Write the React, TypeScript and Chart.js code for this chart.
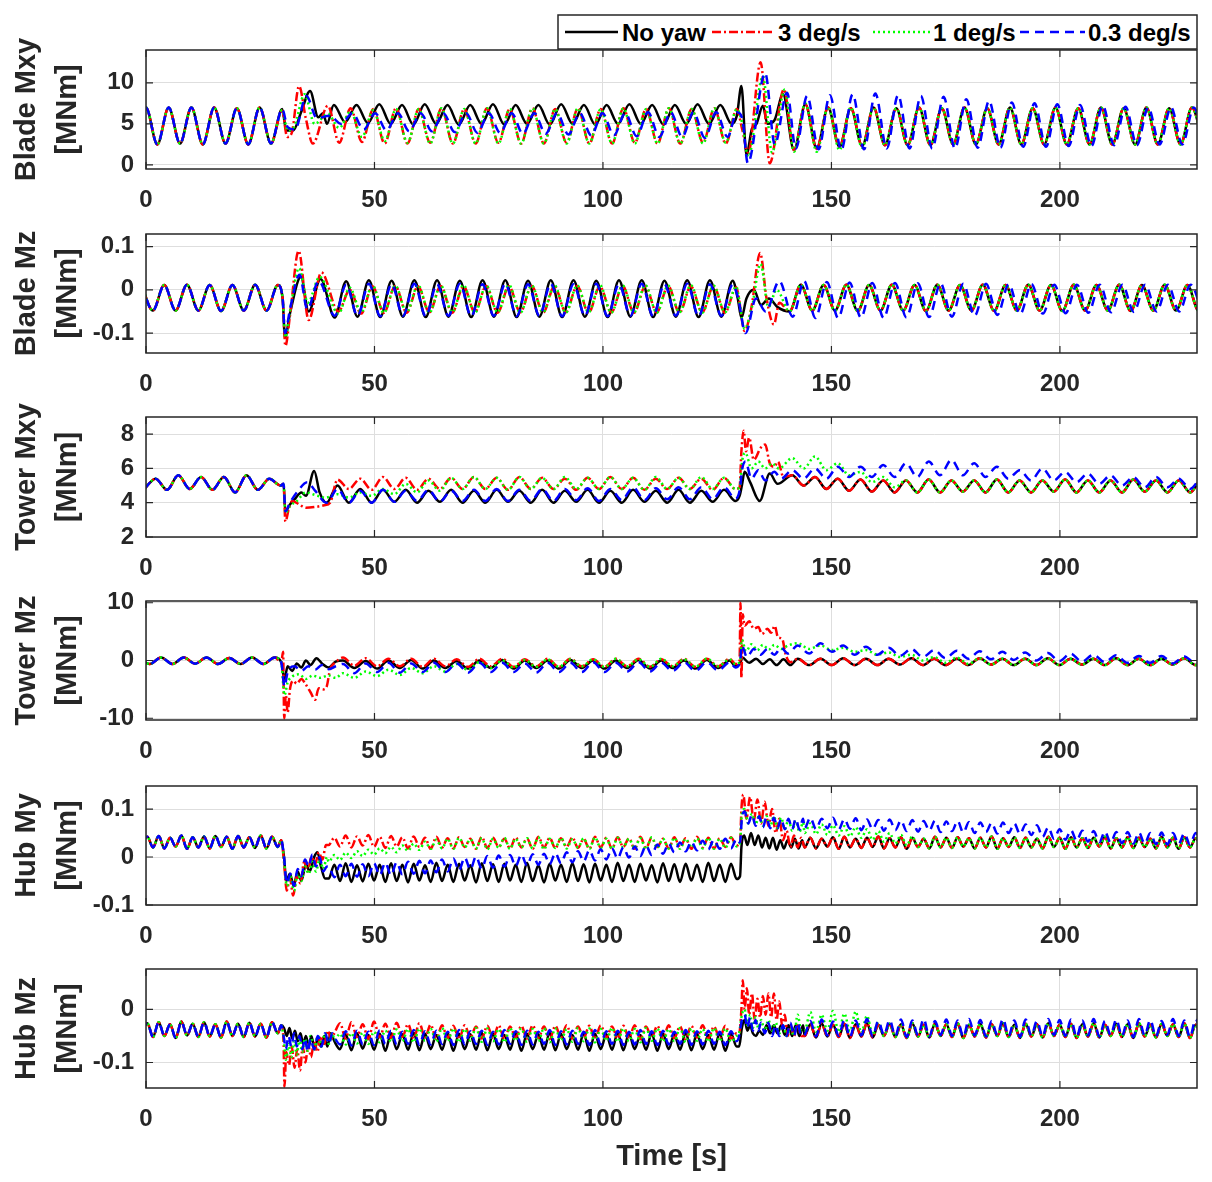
import React, { useEffect, useRef } from "react";
import { Chart, registerables } from "chart.js";

Chart.register(...registerables);

const FONT = "'Liberation Sans', Arial, Helvetica, sans-serif";
const INK = "#262626";
Chart.defaults.font.family = FONT;

const X_TICKS = [0, 50, 100, 150, 200];
const LABELS = ["No yaw", "3 deg/s", "1 deg/s", "0.3 deg/s"];

// ---------------- Blade Mxy (sampled at 1P half-period) ----------------
const MXY_T0 = -2.5;
const MXY_DT = 2.488;
const MXY_PRE = [2.6, 7.0, 2.5, 7.0, 2.6, 7.0, 2.5, 7.0, 2.6, 6.9, 2.5, 7.0, 2.6];
const MXY_BLACK_MID = [
  7.3, 5.2, 7.3, 5.1, 7.4, 5.0, 7.3, 4.9, 7.4, 5.0,
  7.3, 4.9, 7.3, 5.0, 7.4, 4.9, 7.3, 5.0, 7.3, 4.9,
  7.4, 5.0, 7.3, 4.9, 7.3, 5.0, 7.4, 5.0, 7.3, 4.9,
  7.3, 5.0, 7.4, 5.0, 7.3, 5.0];
const MXY_RED_MID = [
  7.2, 2.7, 6.9, 2.8, 6.8, 2.6, 6.9, 2.6, 6.8, 2.7,
  6.9, 2.6, 6.8, 2.6, 6.9, 2.7, 6.8, 2.6, 6.9, 2.6,
  6.8, 2.7, 6.9, 2.6, 6.8, 2.6, 6.9, 2.7, 6.8, 2.6,
  6.9, 2.6, 6.8, 2.7, 6.9, 2.6];
const MXY_GREEN_MID = [
  6.2, 4.5, 6.5, 3.4, 6.7, 2.9, 6.8, 2.7, 6.8, 2.6,
  6.9, 2.6, 6.8, 2.6, 6.9, 2.6, 6.8, 2.6, 6.9, 2.6,
  6.8, 2.6, 6.9, 2.6, 6.8, 2.6, 6.9, 2.6, 6.8, 2.6,
  6.9, 2.6, 6.8, 2.6, 6.9, 2.7];
const MXY_BLUE_MID = [
  6.0, 5.0, 6.3, 4.3, 6.3, 4.2, 6.3, 4.1, 6.3, 4.1,
  6.3, 4.0, 6.3, 3.9, 6.3, 3.9, 6.3, 3.8, 6.3, 3.8,
  6.3, 3.7, 6.3, 3.6, 6.3, 3.6, 6.3, 3.5, 6.4, 3.4,
  6.4, 3.4, 6.4, 3.3, 6.4, 3.4];
const MXY_COMMON_POST = [
  1.8, 7.4, 2.0, 7.0, 2.2, 6.9, 2.3, 7.0, 2.4, 6.9,
  2.4, 7.0, 2.4, 6.9, 2.5, 7.0, 2.5, 6.9, 2.5, 7.0,
  2.5, 6.9, 2.5, 7.0, 2.5, 6.9, 2.5, 7.0, 2.5, 6.9,
  2.5, 7.0, 2.5, 6.9, 2.5, 7.0, 2.5];
const MXY_GREEN_POST_HEAD = [1.6, 7.5, 1.6, 7.1, 1.8, 7.0, 2.1];
const MXY_BLUE_POST = [
  2.0, 8.4, 1.9, 8.5, 1.8, 8.6, 1.9, 8.7, 2.0, 8.5,
  2.0, 8.4, 2.0, 8.3, 2.0, 8.0, 2.1, 7.8, 2.1, 7.6,
  2.2, 7.5, 2.2, 7.4, 2.3, 7.3, 2.3, 7.2, 2.4, 7.1,
  2.4, 7.0, 2.5, 7.0, 2.5, 7.0, 2.5];
const MXY_BLACK_X = [[29.8, 6.8], [30.7, 4.2], [32.2, 4.2], [34.0, 6.5], [35.9, 9.0], [37.7, 5.8], [38.7, 6.3], [39.6, 5.0],
  [129.3, 6.0], [130.3, 9.6], [131.4, 1.2], [132.6, 4.4], [133.6, 5.0], [135.0, 7.2], [136.0, 5.0], [137.5, 5.4], [139.4, 8.6]];
const MXY_RED_X = [[29.8, 6.6], [30.9, 3.4], [31.9, 3.9], [33.5, 9.6], [35.0, 5.6], [36.5, 2.6],
  [129.3, 6.8], [130.4, 4.5], [131.8, 1.5], [134.5, 12.5], [136.5, 0.2], [139.6, 9.2]];
const MXY_GREEN_X = [[29.8, 6.7], [31.0, 4.2], [32.4, 4.6], [34.7, 8.6], [36.9, 5.0],
  [129.3, 6.8], [130.5, 5.0], [131.8, 1.0], [135.0, 10.8], [137.0, 1.5], [139.8, 9.2]];
const MXY_BLUE_X = [[29.8, 6.8], [31.0, 4.6], [32.6, 4.3], [35.1, 8.4], [37.4, 5.7],
  [129.3, 6.4], [130.5, 5.6], [131.7, 0.2], [135.5, 11.2], [137.6, 2.5], [140.3, 8.8]];

// ---------------- Blade Mz ----------------
const BMZ_T0 = -0.988;
const BMZ_DT = 2.488;
const BMZ_PRE = [0.011, -0.048, 0.011, -0.048, 0.012, -0.048, 0.011, -0.049, 0.011, -0.048, 0.012, -0.048, 0.011];
const BMZ_BLACK_MID = [
  -0.064, 0.020, -0.062, 0.022, -0.063, 0.021, -0.062, 0.022, -0.063, 0.022,
  -0.062, 0.021, -0.063, 0.022, -0.062, 0.022, -0.063, 0.021, -0.062, 0.022,
  -0.063, 0.022, -0.062, 0.021, -0.063, 0.022, -0.062, 0.022, -0.063, 0.021,
  -0.062, 0.022, -0.063, 0.022, -0.062, 0.021];
const BMZ_RED_MID = [
  -0.050, 0.000, -0.055, 0.008, -0.053, 0.009, -0.053, 0.008, -0.052, 0.009,
  -0.053, 0.008, -0.052, 0.009, -0.053, 0.008, -0.052, 0.009, -0.053, 0.008,
  -0.052, 0.009, -0.053, 0.008, -0.052, 0.009, -0.053, 0.008, -0.052, 0.009,
  -0.053, 0.008, -0.052, 0.009, -0.053, 0.006];
const BMZ_GREEN_MID = [
  -0.055, 0.005, -0.052, 0.010, -0.053, 0.010, -0.052, 0.011, -0.053, 0.010,
  -0.052, 0.011, -0.053, 0.010, -0.052, 0.011, -0.053, 0.010, -0.052, 0.011,
  -0.053, 0.010, -0.052, 0.011, -0.053, 0.010, -0.052, 0.011, -0.053, 0.010,
  -0.052, 0.011, -0.053, 0.010, -0.052, 0.008];
const BMZ_BLUE_MID = [
  -0.060, 0.012, -0.060, 0.014, -0.061, 0.013, -0.060, 0.014, -0.061, 0.013,
  -0.060, 0.014, -0.061, 0.013, -0.060, 0.014, -0.061, 0.013, -0.060, 0.014,
  -0.061, 0.013, -0.060, 0.014, -0.061, 0.013, -0.060, 0.014, -0.061, 0.013,
  -0.060, 0.014, -0.061, 0.013, -0.060, 0.012];
const BMZ_COMMON_POST = [
  -0.050, 0.012, -0.048, 0.011, -0.048, 0.012, -0.049, 0.011, -0.048, 0.012,
  -0.048, 0.011, -0.049, 0.012, -0.048, 0.011, -0.048, 0.012, -0.049, 0.011,
  -0.048, 0.012, -0.048, 0.011, -0.049, 0.012, -0.048, 0.011, -0.048, 0.012,
  -0.049, 0.011, -0.048, 0.012, -0.048, 0.011, -0.049, 0.012];
const BMZ_BLUE_POST = [
  -0.062, 0.020, -0.065, 0.018, -0.065, 0.017, -0.064, 0.016, -0.065, 0.016,
  -0.064, 0.015, -0.063, 0.015, -0.062, 0.014, -0.060, 0.014, -0.058, 0.013,
  -0.056, 0.013, -0.055, 0.012, -0.054, 0.012, -0.053, 0.012, -0.052, 0.012,
  -0.051, 0.012, -0.050, 0.012, -0.050, 0.012, -0.050];
const BMZ_BLACK_X = [[29.9, -0.02], [30.4, -0.11], [31.6, -0.05], [33.9, 0.03], [35.6, -0.05], [38.2, 0.025],
  [129.5, -0.02], [130.3, -0.065], [131.4, -0.02], [133.0, 0.0], [134.6, -0.035], [136.3, -0.02], [138.2, -0.04]];
const BMZ_RED_X = [[29.9, -0.02], [30.5, -0.13], [31.5, -0.06], [33.4, 0.09], [35.6, -0.07], [38.4, 0.04],
  [129.6, -0.01], [131.0, -0.095], [132.5, -0.04], [134.4, 0.085], [135.8, -0.02], [137.4, -0.08], [138.6, -0.03]];
const BMZ_GREEN_X = [[29.9, -0.02], [30.5, -0.11], [31.5, -0.05], [33.5, 0.05], [35.4, -0.03], [38.0, 0.03],
  [129.6, -0.01], [131.0, -0.09], [132.6, -0.04], [134.5, 0.06], [136.2, -0.04], [138.0, 0.0]];
const BMZ_BLUE_X = [[29.9, -0.02], [30.4, -0.10], [31.6, -0.04], [33.6, 0.035], [35.3, -0.045], [37.8, 0.02],
  [129.6, -0.02], [131.2, -0.10], [133.5, -0.02], [135.6, -0.05], [138.6, 0.02]];

// ---------------- Tower Mxy ----------------
const TMXY_T0 = -0.388;
const TMXY_DT = 2.488;
const TMXY_PRE = [4.8, 5.4, 4.75, 5.6, 4.8, 5.5, 4.75, 5.5, 4.6, 5.6, 4.75, 5.4, 5.0];
const TMXY_BLACK_MID = [
  5.0, 4.0, 4.8, 4.0, 4.75, 4.05, 4.75, 4.0, 4.7, 4.05,
  4.75, 4.0, 4.7, 4.0, 4.75, 4.05, 4.7, 4.0, 4.75, 4.0,
  4.7, 4.05, 4.75, 4.0, 4.7, 4.0, 4.75, 4.05, 4.7, 4.0,
  4.75, 4.0, 4.7, 4.05, 4.75, 4.1];
const TMXY_RED_MID = [
  5.35, 4.8, 5.4, 4.75, 5.5, 4.8, 5.45, 4.75, 5.4, 4.8,
  5.45, 4.8, 5.5, 4.8, 5.45, 4.75, 5.5, 4.8, 5.45, 4.8,
  5.4, 4.75, 5.45, 4.8, 5.5, 4.8, 5.45, 4.75, 5.4, 4.8,
  5.45, 4.8, 5.4, 4.75, 5.45, 4.8];
const TMXY_GREEN_MID = [
  4.5, 4.3, 4.6, 4.4, 4.8, 4.5, 5.1, 4.6, 5.3, 4.7,
  5.45, 4.8, 5.5, 4.8, 5.45, 4.75, 5.5, 4.8, 5.45, 4.8,
  5.5, 4.8, 5.45, 4.8, 5.5, 4.8, 5.45, 4.75, 5.5, 4.8,
  5.45, 4.8, 5.5, 4.8, 5.45, 4.8];
const TMXY_BLUE_MID = [
  4.8, 4.0, 4.7, 4.0, 4.75, 4.05, 4.7, 4.1, 4.75, 4.05,
  4.7, 4.1, 4.75, 4.1, 4.8, 4.1, 4.75, 4.1, 4.8, 4.1,
  4.8, 4.15, 4.85, 4.1, 4.8, 4.15, 4.9, 4.15, 4.85, 4.2,
  4.9, 4.2, 4.9, 4.2, 4.9, 4.25];
const TMXY_COMMON_POST = [
  5.6, 5.0, 5.5, 4.8, 5.4, 4.7, 5.35, 4.65, 5.3, 4.6,
  5.3, 4.6, 5.35, 4.6, 5.3, 4.65, 5.3, 4.6, 5.35, 4.6,
  5.3, 4.6, 5.3, 4.65, 5.35, 4.6, 5.3, 4.6, 5.3, 4.6,
  5.35, 4.65, 5.3, 4.6, 5.3, 4.6, 5.35, 4.6];
const TMXY_GREEN_POST_HEAD = [6.6, 6.0, 6.7, 5.9, 6.3, 5.6, 5.8, 5.2, 5.5, 4.9];
const TMXY_BLUE_POST = [
  5.9, 5.4, 6.0, 5.4, 6.1, 5.5, 6.1, 5.5, 6.2, 5.5,
  6.3, 5.5, 6.4, 5.6, 6.5, 5.6, 6.3, 5.5, 6.1, 5.4,
  5.9, 5.3, 6.0, 5.3, 5.8, 5.2, 5.7, 5.1, 5.6, 5.0,
  5.5, 4.9, 5.5, 4.9, 5.4, 4.8, 5.4, 4.8];
const TMXY_BLACK_X = [[30.1, 5.1], [30.5, 3.5], [31.5, 3.9], [32.5, 4.2], [34.0, 4.6], [35.0, 4.4], [36.8, 5.85], [38.0, 4.6], [39.5, 4.0],
  [129.9, 4.4], [130.4, 5.0], [131.0, 5.8], [132.2, 5.2], [134.3, 4.1], [136.5, 5.7], [138.2, 5.1]];
const TMXY_RED_X = [[30.1, 5.1], [30.5, 2.9], [31.3, 3.7], [32.0, 4.1], [33.5, 3.9], [35.0, 3.7], [37.0, 3.75], [39.0, 3.85], [40.3, 4.0],
  [129.9, 4.9], [130.3, 7.0], [130.8, 8.2], [131.3, 7.0], [132.0, 7.8], [133.0, 6.5], [134.5, 7.2], [135.5, 7.4], [136.5, 6.3], [137.5, 6.1], [138.3, 6.4], [139.5, 5.5]];
const TMXY_GREEN_X = [[30.1, 5.1], [30.5, 3.4], [31.5, 3.8], [33.0, 4.1], [35.0, 4.6], [37.0, 4.45], [39.3, 4.3],
  [129.9, 4.9], [130.5, 6.5], [131.2, 6.9], [132.5, 6.0], [134.0, 6.4], [135.5, 6.0], [137.0, 6.3], [138.5, 6.0]];
const TMXY_BLUE_X = [[30.1, 5.1], [30.5, 3.5], [31.5, 4.0], [33.0, 4.6], [35.3, 5.2], [37.0, 4.7], [39.5, 4.0],
  [129.9, 4.7], [130.5, 6.0], [131.2, 6.4], [132.5, 5.4], [134.0, 5.9], [135.5, 5.3], [137.5, 5.8], [139.0, 5.4]];

// ---------------- Tower Mz ----------------
const TMZ_T0 = -1.676;
const TMZ_DT = 2.488;
const TMZ_PRE = [0.45, -0.6, 0.5, -0.6, 0.5, -0.55, 0.5, -0.6, 0.45, -0.6, 0.5, -0.6, 0.5];
const TMZ_BLACK_MID = [
  0.0, -1.3, -0.1, -1.4, 0.0, -1.3, 0.1, -1.4, 0.0, -1.3,
  -0.1, -1.4, 0.0, -1.3, 0.1, -1.4, 0.0, -1.3, 0.0, -1.4,
  0.1, -1.3, 0.0, -1.4, 0.0, -1.3, 0.1, -1.4, 0.0, -1.3,
  0.0, -1.4, 0.1, -1.3, 0.0];
const TMZ_RED_MID = [
  0.5, -0.9, 0.4, -1.0, 0.3, -1.0, 0.3, -1.1, 0.3, -1.0,
  0.2, -1.1, 0.3, -1.0, 0.3, -1.1, 0.2, -1.0, 0.3, -1.1,
  0.3, -1.0, 0.2, -1.1, 0.3, -1.0, 0.3, -1.1, 0.2, -1.0,
  0.3, -1.1, 0.3, -1.0, 0.3];
const TMZ_GREEN_MID = [
  -2.2, -3.0, -1.9, -2.7, -1.6, -2.5, -1.3, -2.2, -1.0, -1.9,
  -0.6, -1.6, -0.3, -1.3, 0.0, -1.2, 0.1, -1.1, 0.2, -1.1,
  0.2, -1.0, 0.2, -1.1, 0.3, -1.0, 0.2, -1.1, 0.3, -1.0,
  0.2, -1.1, 0.3, -1.0, 0.2];
const TMZ_BLUE_MID = [
  -0.6, -2.2, -0.5, -2.0, -0.4, -2.1, -0.5, -2.0, -0.4, -2.0,
  -0.5, -2.1, -0.4, -2.0, -0.4, -2.0, -0.5, -2.1, -0.4, -2.0,
  -0.4, -2.0, -0.3, -2.0, -0.4, -1.9, -0.3, -1.9, -0.4, -1.8,
  -0.3, -1.8, -0.3, -1.7, -0.3];
const TMZ_COMMON_POST = [
  0.3, -0.8, 0.3, -0.8, 0.4, -0.8, 0.3, -0.8, 0.3, -0.7,
  0.4, -0.8, 0.3, -0.8, 0.3, -0.8, 0.4, -0.7, 0.3, -0.8,
  0.3, -0.8, 0.4, -0.8, 0.3, -0.7, 0.3, -0.8, 0.4, -0.8,
  0.3, -0.8, 0.3, -0.7, 0.4, -0.8, 0.3];
const TMZ_GREEN_POST_HEAD = [3.0, 2.0, 2.6, 1.8, 2.2, 1.5, 1.8, 1.0, 1.4, 0.6, 1.0, 0.0, 0.6, -0.4, 0.5, -0.6, 0.4, -0.7];
const TMZ_BLUE_POST = [
  2.6, 1.2, 3.0, 1.5, 2.6, 1.0, 2.4, 1.0, 2.2, 0.8,
  2.0, 0.6, 1.8, 0.4, 1.7, 0.3, 1.6, 0.2, 1.5, 0.1,
  1.4, 0.0, 1.3, -0.1, 1.2, -0.2, 1.0, -0.3, 0.9, -0.4,
  0.8, -0.4, 0.8, -0.5, 0.7, -0.5, 0.6];
const TMZ_BLACK_X = [[29.6, -0.3], [30.3, -3.2], [31.0, -1.0], [32.0, -1.8], [33.0, -0.5], [34.0, -1.2], [35.0, 0.0], [36.0, -0.8], [37.3, 0.4], [38.5, -0.5], [40.0, -1.2], [41.5, -0.2],
  [129.0, -1.0], [130.0, -0.5], [130.5, 0.5], [132.0, -0.4], [133.5, 0.3], [135.0, -0.6], [136.5, 0.2], [138.0, -0.8], [139.5, 0.2], [141.0, -0.8]];
const TMZ_RED_X = [[29.6, -0.3], [30.0, 1.5], [30.25, -10.0], [30.6, -6.0], [31.0, -9.0], [31.5, -5.0], [32.2, -3.5], [33.0, -4.0], [34.0, -3.2], [35.0, -4.2], [36.0, -5.5], [37.0, -6.8], [37.8, -4.8], [38.8, -5.0], [39.5, -4.6], [40.3, -1.5], [41.5, -0.3],
  [129.0, -0.6], [129.9, 0.0], [130.1, 10.0], [130.3, -3.0], [130.6, 8.0], [131.0, 6.0], [132.0, 6.8], [133.0, 5.5], [134.0, 5.8], [134.8, 4.6], [136.0, 5.5], [136.8, 4.8], [137.6, 6.0], [138.3, 4.0], [139.2, 3.8], [140.0, 1.0], [141.0, -0.3]];
const TMZ_GREEN_X = [[29.6, -0.3], [30.3, -6.0], [31.0, -3.8], [32.0, -2.8], [33.5, -2.4], [35.0, -3.2], [36.5, -2.6], [38.0, -3.0], [40.0, -2.6], [41.5, -3.0],
  [129.0, -0.6], [130.0, -0.2], [130.4, 3.6], [131.3, 1.6], [132.5, 2.8], [133.8, 1.8], [135.0, 2.7], [136.3, 1.9], [137.5, 2.7], [139.0, 2.0], [140.5, 2.6]];
const TMZ_BLUE_X = [[29.6, -0.3], [30.3, -4.5], [31.0, -2.0], [32.5, -1.0], [34.0, -1.8], [35.5, -1.0], [37.0, -1.6], [38.5, -0.8], [40.0, -1.5], [41.5, -1.0],
  [129.0, -1.2], [130.0, -0.3], [130.4, 2.6], [131.5, 0.6], [133.0, 2.0], [134.5, 1.0], [136.0, 2.0], [137.5, 1.0], [139.0, 2.2], [140.5, 1.2]];

// ---------------- Hub My (sampled every 1.24 s) ----------------
const HUB_T0 = -0.94;
const HUB_DT = 1.24;
const HMY_PRE = [
  0.030, 0.042, 0.020, 0.044, 0.018, 0.040, 0.022, 0.045, 0.017, 0.041,
  0.020, 0.043, 0.018, 0.044, 0.021, 0.042, 0.017, 0.044, 0.020, 0.041,
  0.019, 0.045, 0.018, 0.042, 0.021];
const HMY_BLACK_MID = [
  -0.045, -0.016, -0.050, -0.013, -0.052, -0.017, -0.051, -0.014, -0.049, -0.016,
  -0.052, -0.013, -0.050, -0.016, -0.053, -0.014, -0.049, -0.017, -0.052, -0.012,
  -0.050, -0.016, -0.052, -0.014, -0.049, -0.017, -0.053, -0.013, -0.050, -0.015,
  -0.052, -0.014, -0.049, -0.016, -0.052, -0.012, -0.050, -0.017, -0.053, -0.014,
  -0.049, -0.016, -0.052, -0.013, -0.050, -0.015, -0.053, -0.014, -0.049, -0.016,
  -0.052, -0.012, -0.050, -0.016, -0.052, -0.014, -0.049, -0.017, -0.053, -0.013,
  -0.050, -0.015, -0.052, -0.014, -0.049, -0.016, -0.052, -0.012, -0.050, -0.016,
  -0.052, -0.014, -0.046];
const HMY_RED_MID = [
  0.025, 0.040, 0.022, 0.045, 0.020, 0.043, 0.024, 0.046, 0.021, 0.042,
  0.019, 0.044, 0.022, 0.041, 0.018, 0.043, 0.021, 0.040, 0.017, 0.042,
  0.020, 0.039, 0.018, 0.041, 0.021, 0.038, 0.017, 0.042, 0.019, 0.040,
  0.021, 0.038, 0.018, 0.041, 0.020, 0.039, 0.017, 0.042, 0.020, 0.040,
  0.018, 0.039, 0.021, 0.041, 0.019, 0.038, 0.017, 0.042, 0.020, 0.040,
  0.018, 0.041, 0.021, 0.039, 0.017, 0.042, 0.019, 0.040, 0.021, 0.038,
  0.018, 0.041, 0.020, 0.039, 0.017, 0.042, 0.020, 0.040, 0.018, 0.039,
  0.021, 0.041, 0.024];
const HMY_GREEN_MID = [
  -0.010, 0.004, -0.006, 0.009, -0.002, 0.012, 0.002, 0.015, 0.005, 0.018,
  0.008, 0.021, 0.010, 0.024, 0.013, 0.028, 0.015, 0.032, 0.017, 0.036,
  0.018, 0.038, 0.017, 0.040, 0.020, 0.037, 0.018, 0.039, 0.016, 0.038,
  0.019, 0.040, 0.017, 0.038, 0.020, 0.039, 0.018, 0.041, 0.016, 0.038,
  0.019, 0.040, 0.018, 0.037, 0.020, 0.039, 0.017, 0.041, 0.019, 0.038,
  0.017, 0.040, 0.020, 0.038, 0.018, 0.039, 0.016, 0.041, 0.019, 0.038,
  0.018, 0.040, 0.017, 0.038, 0.020, 0.039, 0.018, 0.040, 0.017, 0.038,
  0.019, 0.040, 0.022];
const HMY_BLUE_MID = [
  -0.020, -0.042, -0.016, -0.040, -0.014, -0.041, -0.015, -0.040, -0.013, -0.038,
  -0.012, -0.038, -0.011, -0.036, -0.010, -0.035, -0.008, -0.034, -0.007, -0.032,
  -0.005, -0.030, -0.003, -0.028, -0.001, -0.026, 0.001, -0.024, 0.002, -0.022,
  0.003, -0.020, 0.004, -0.019, 0.005, -0.018, 0.006, -0.016, 0.007, -0.015,
  0.008, -0.013, 0.010, -0.011, 0.012, -0.009, 0.014, -0.007, 0.016, -0.005,
  0.018, -0.003, 0.020, -0.001, 0.022, 0.002, 0.024, 0.004, 0.026, 0.007,
  0.028, 0.010, 0.030, 0.012, 0.032, 0.014, 0.034, 0.016, 0.036, 0.017,
  0.038, 0.018, 0.038];
const HMY_COMMON_POST = [
  0.020, 0.040, 0.018, 0.038, 0.022, 0.041, 0.017, 0.042, 0.020, 0.038,
  0.019, 0.040, 0.021, 0.043, 0.018, 0.039, 0.020, 0.041, 0.017, 0.040,
  0.021, 0.038, 0.018, 0.042, 0.020, 0.040, 0.019, 0.041, 0.022, 0.039,
  0.018, 0.040, 0.020, 0.043, 0.017, 0.039, 0.021, 0.041, 0.019, 0.040,
  0.020, 0.038, 0.018, 0.042, 0.021, 0.040, 0.017, 0.041, 0.020, 0.039,
  0.019, 0.040, 0.022, 0.042, 0.018, 0.039, 0.020, 0.041, 0.019, 0.040,
  0.021, 0.038, 0.018, 0.042, 0.020, 0.040, 0.017, 0.041, 0.020, 0.039,
  0.020];
const HMY_GREEN_POST_HEAD = [
  0.050, 0.070, 0.048, 0.068, 0.046, 0.066, 0.045, 0.064, 0.043, 0.062,
  0.040, 0.058, 0.036, 0.054, 0.032, 0.050, 0.028, 0.046, 0.024, 0.043];
const HMY_BLUE_POST = [
  0.060, 0.082, 0.058, 0.080, 0.060, 0.082, 0.057, 0.079, 0.059, 0.081,
  0.056, 0.078, 0.058, 0.077, 0.055, 0.078, 0.056, 0.076, 0.054, 0.077,
  0.053, 0.075, 0.055, 0.076, 0.052, 0.074, 0.054, 0.075, 0.051, 0.073,
  0.050, 0.072, 0.052, 0.071, 0.049, 0.072, 0.050, 0.070, 0.048, 0.068,
  0.046, 0.066, 0.042, 0.062, 0.038, 0.058, 0.036, 0.056, 0.034, 0.055,
  0.032, 0.054, 0.031, 0.053, 0.030, 0.052, 0.029, 0.052, 0.028, 0.051,
  0.028, 0.050, 0.027, 0.051, 0.026, 0.050, 0.027, 0.049, 0.026, 0.050,
  0.028];
const HMY_BLACK_X = [[29.6, 0.035], [30.2, 0.0], [30.7, -0.05], [31.5, -0.035], [32.3, -0.06], [33.2, -0.03], [34.0, -0.05], [35.0, -0.015], [35.8, -0.03], [36.8, 0.0], [37.5, 0.01], [38.3, -0.02], [39.2, -0.045],
  [130.0, -0.04], [130.3, 0.02], [130.9, 0.045], [131.6, 0.025], [132.4, 0.05], [133.2, 0.025], [134.0, 0.045], [134.8, 0.02], [135.6, 0.04], [136.4, 0.018], [137.2, 0.04], [138.0, 0.015], [138.8, 0.035], [139.6, 0.018], [140.4, 0.035], [141.2, 0.02], [142.0, 0.038], [142.8, 0.018], [143.6, 0.035]];
const HMY_RED_X = [[29.6, 0.035], [30.2, -0.01], [30.8, -0.07], [31.5, -0.045], [32.2, -0.08], [33.0, -0.04], [33.8, -0.055], [34.6, -0.01], [35.4, -0.03], [36.2, 0.0], [37.0, -0.015], [37.8, 0.01], [38.6, -0.005], [39.4, 0.025],
  [130.0, 0.03], [130.3, 0.1], [130.7, 0.13], [131.4, 0.08], [132.2, 0.125], [133.0, 0.075], [133.8, 0.12], [134.6, 0.07], [135.4, 0.115], [136.2, 0.065], [137.0, 0.1], [137.8, 0.05], [138.6, 0.08], [139.4, 0.035], [140.2, 0.055], [141.0, 0.02], [141.8, 0.045], [142.6, 0.02], [143.4, 0.04]];
const HMY_GREEN_X = [[29.6, 0.035], [30.2, -0.005], [30.8, -0.06], [31.6, -0.04], [32.4, -0.07], [33.2, -0.035], [34.0, -0.05], [34.8, -0.02], [35.6, -0.035], [36.4, -0.01], [37.2, -0.03], [38.0, -0.005], [38.8, -0.025], [39.6, 0.0],
  [130.0, 0.03], [130.4, 0.09], [131.0, 0.1], [131.8, 0.07], [132.6, 0.09], [133.4, 0.068], [134.2, 0.088], [135.0, 0.065], [135.8, 0.085], [136.6, 0.063], [137.4, 0.085], [138.2, 0.06], [139.0, 0.082], [139.8, 0.058], [140.6, 0.078], [141.4, 0.055], [142.2, 0.075], [143.0, 0.052], [143.8, 0.072]];
const HMY_BLUE_X = [[29.6, 0.035], [30.2, 0.0], [30.8, -0.055], [31.6, -0.035], [32.4, -0.06], [33.2, -0.025], [34.0, -0.04], [34.8, -0.005], [35.6, -0.02], [36.4, 0.005], [37.2, -0.02], [38.0, 0.0], [38.8, -0.03], [39.6, -0.02],
  [130.0, 0.03], [130.4, 0.08], [131.0, 0.095], [131.8, 0.07], [132.6, 0.088], [133.4, 0.065], [134.2, 0.085], [135.0, 0.062], [135.8, 0.083], [136.6, 0.06], [137.4, 0.082], [138.2, 0.06], [139.0, 0.08], [139.8, 0.058], [140.6, 0.08], [141.4, 0.058], [142.2, 0.08], [143.0, 0.057], [143.8, 0.08]];

// ---------------- Hub Mz ----------------
const HMZ_PRE = [
  -0.040, -0.026, -0.052, -0.024, -0.050, -0.028, -0.054, -0.023, -0.049, -0.027,
  -0.052, -0.024, -0.051, -0.028, -0.053, -0.023, -0.050, -0.027, -0.052, -0.025,
  -0.051, -0.027, -0.053, -0.024, -0.045];
const HMZ_BLACK_MID = [
  -0.060, -0.075, -0.047, -0.077, -0.045, -0.074, -0.048, -0.076, -0.046, -0.078,
  -0.045, -0.075, -0.047, -0.076, -0.044, -0.077, -0.046, -0.075, -0.048, -0.076,
  -0.045, -0.078, -0.046, -0.075, -0.047, -0.076, -0.044, -0.077, -0.046, -0.075,
  -0.048, -0.076, -0.045, -0.078, -0.046, -0.075, -0.047, -0.076, -0.044, -0.077,
  -0.046, -0.075, -0.048, -0.076, -0.045, -0.078, -0.046, -0.075, -0.047, -0.076,
  -0.044, -0.077, -0.046, -0.075, -0.048, -0.076, -0.045, -0.078, -0.046, -0.075,
  -0.047, -0.076, -0.044, -0.077, -0.046, -0.075, -0.048, -0.076, -0.045, -0.078,
  -0.046, -0.070];
const HMZ_RED_MID = [
  -0.045, -0.026, -0.055, -0.024, -0.052, -0.028, -0.056, -0.023, -0.053, -0.027,
  -0.054, -0.025, -0.052, -0.028, -0.055, -0.026, -0.053, -0.029, -0.056, -0.030,
  -0.054, -0.031, -0.056, -0.030, -0.053, -0.032, -0.055, -0.031, -0.054, -0.030,
  -0.056, -0.032, -0.053, -0.031, -0.055, -0.030, -0.054, -0.032, -0.056, -0.031,
  -0.053, -0.030, -0.055, -0.032, -0.054, -0.031, -0.056, -0.030, -0.053, -0.032,
  -0.055, -0.031, -0.054, -0.030, -0.056, -0.032, -0.053, -0.031, -0.055, -0.030,
  -0.054, -0.032, -0.056, -0.031, -0.053, -0.030, -0.055, -0.032, -0.054, -0.031,
  -0.055, -0.045];
const HMZ_GREEN_MID = [
  -0.058, -0.046, -0.066, -0.045, -0.064, -0.044, -0.065, -0.042, -0.062, -0.040,
  -0.061, -0.038, -0.060, -0.037, -0.062, -0.036, -0.059, -0.037, -0.061, -0.035,
  -0.060, -0.036, -0.062, -0.037, -0.059, -0.035, -0.061, -0.036, -0.060, -0.037,
  -0.062, -0.035, -0.059, -0.036, -0.061, -0.037, -0.060, -0.035, -0.062, -0.036,
  -0.059, -0.037, -0.061, -0.035, -0.060, -0.036, -0.062, -0.037, -0.059, -0.035,
  -0.061, -0.036, -0.060, -0.037, -0.062, -0.035, -0.059, -0.036, -0.061, -0.037,
  -0.060, -0.035, -0.062, -0.036, -0.059, -0.037, -0.061, -0.035, -0.060, -0.036,
  -0.061, -0.050];
const HMZ_BLUE_MID = [
  -0.052, -0.066, -0.041, -0.068, -0.040, -0.066, -0.042, -0.067, -0.039, -0.065,
  -0.040, -0.066, -0.042, -0.065, -0.039, -0.067, -0.041, -0.066, -0.040, -0.065,
  -0.042, -0.067, -0.039, -0.066, -0.041, -0.065, -0.040, -0.067, -0.042, -0.066,
  -0.039, -0.065, -0.041, -0.067, -0.040, -0.066, -0.042, -0.065, -0.039, -0.067,
  -0.041, -0.066, -0.040, -0.065, -0.042, -0.067, -0.039, -0.066, -0.041, -0.065,
  -0.040, -0.067, -0.042, -0.066, -0.039, -0.065, -0.041, -0.067, -0.040, -0.066,
  -0.042, -0.065, -0.039, -0.067, -0.041, -0.066, -0.040, -0.065, -0.042, -0.067,
  -0.041, -0.060];
const HMZ_COMMON_POST = [
  -0.050, -0.028, -0.053, -0.026, -0.051, -0.029, -0.052, -0.027, -0.054, -0.028,
  -0.051, -0.026, -0.053, -0.029, -0.050, -0.027, -0.052, -0.028, -0.054, -0.026,
  -0.051, -0.029, -0.053, -0.027, -0.050, -0.028, -0.052, -0.026, -0.054, -0.029,
  -0.051, -0.027, -0.053, -0.028, -0.050, -0.026, -0.052, -0.029, -0.054, -0.027,
  -0.051, -0.028, -0.053, -0.026, -0.050, -0.029, -0.052, -0.027, -0.054, -0.028,
  -0.051, -0.026, -0.053, -0.029, -0.050, -0.027, -0.052, -0.028, -0.054, -0.026,
  -0.051, -0.029, -0.053, -0.027, -0.050, -0.028, -0.052, -0.026, -0.054, -0.029,
  -0.051];
const HMZ_GREEN_POST_HEAD = [
  -0.040, -0.005, -0.042, -0.010, -0.040, -0.003, -0.043, -0.008, -0.041, -0.004,
  -0.044, -0.012, -0.048, -0.025, -0.050, -0.027, -0.052, -0.028, -0.054, -0.026];
const HMZ_BLUE_POST = [
  -0.048, -0.022, -0.051, -0.019, -0.049, -0.023, -0.050, -0.020, -0.052, -0.021,
  -0.049, -0.018, -0.051, -0.022, -0.048, -0.020, -0.050, -0.019, -0.052, -0.021,
  -0.049, -0.018, -0.051, -0.022, -0.048, -0.019, -0.050, -0.021, -0.052, -0.018,
  -0.049, -0.020, -0.051, -0.022, -0.048, -0.018, -0.050, -0.021, -0.052, -0.019,
  -0.049, -0.022, -0.051, -0.018, -0.048, -0.020, -0.050, -0.019, -0.052, -0.021,
  -0.049, -0.018, -0.051, -0.022, -0.048, -0.019, -0.050, -0.021, -0.052, -0.018,
  -0.049, -0.020, -0.051, -0.022, -0.048, -0.018, -0.050, -0.021, -0.052, -0.019,
  -0.049];
const HMZ_BLACK_X = [[29.6, -0.03], [30.2, -0.035], [30.8, -0.05], [31.4, -0.035], [32.0, -0.055], [32.6, -0.04], [33.2, -0.06], [33.8, -0.045], [34.4, -0.065], [35.0, -0.05], [35.6, -0.07], [36.2, -0.05], [36.9, -0.075], [37.6, -0.055], [38.3, -0.07], [39.0, -0.05], [39.7, -0.07], [40.4, -0.045],
  [129.8, -0.07], [130.4, -0.035], [131.0, -0.02], [131.6, -0.04], [132.2, -0.03], [132.8, -0.045], [133.5, -0.05], [134.2, -0.04], [135.0, -0.048], [135.8, -0.03], [136.6, -0.045], [137.4, -0.03], [138.2, -0.045], [139.0, -0.03], [139.8, -0.048], [140.6, -0.03], [141.4, -0.05], [142.2, -0.03], [143.0, -0.05], [143.8, -0.03]];
const HMZ_RED_X = [[29.6, -0.03], [30.1, -0.06], [30.3, -0.145], [30.7, -0.08], [31.3, -0.105], [31.9, -0.07], [32.5, -0.11], [33.1, -0.075], [33.7, -0.115], [34.3, -0.07], [34.9, -0.1], [35.5, -0.065], [36.1, -0.09], [36.8, -0.06], [37.5, -0.08], [38.2, -0.05], [39.0, -0.065], [39.8, -0.04], [40.5, -0.055],
  [129.8, -0.045], [130.3, 0.0], [130.6, 0.055], [131.0, 0.0], [131.5, 0.04], [132.0, -0.01], [132.6, 0.03], [133.2, -0.02], [133.8, 0.02], [134.4, -0.015], [135.0, 0.025], [135.6, -0.01], [136.2, 0.03], [136.8, -0.015], [137.4, 0.03], [138.0, -0.02], [138.6, 0.015], [139.2, -0.03], [139.8, -0.01], [140.4, -0.05], [141.0, -0.03], [141.8, -0.05], [142.6, -0.03], [143.4, -0.05]];
const HMZ_GREEN_X = [[29.6, -0.03], [30.2, -0.06], [30.6, -0.095], [31.2, -0.065], [31.8, -0.09], [32.4, -0.06], [33.0, -0.085], [33.6, -0.055], [34.2, -0.08], [34.8, -0.055], [35.4, -0.078], [36.0, -0.05], [36.8, -0.075], [37.6, -0.05], [38.4, -0.07], [39.2, -0.045], [40.0, -0.065], [40.8, -0.045],
  [129.8, -0.045], [130.4, -0.01], [131.0, 0.0], [131.6, -0.03], [132.2, -0.01], [132.8, -0.035], [133.4, -0.015], [134.0, -0.035], [134.6, -0.02], [135.4, -0.04], [136.2, -0.02], [137.0, -0.04], [137.8, -0.025], [138.6, -0.045], [139.4, -0.03], [140.2, -0.05], [141.0, -0.035], [141.8, -0.05], [142.6, -0.01], [143.4, -0.04]];
const HMZ_BLUE_X = [[29.6, -0.03], [30.2, -0.055], [30.6, -0.075], [31.2, -0.05], [31.8, -0.07], [32.4, -0.045], [33.0, -0.07], [33.6, -0.05], [34.2, -0.075], [34.8, -0.055], [35.4, -0.08], [36.0, -0.055], [36.8, -0.075], [37.6, -0.05], [38.4, -0.07], [39.2, -0.045], [40.0, -0.065], [40.8, -0.045],
  [129.8, -0.05], [130.4, -0.02], [131.0, -0.01], [131.6, -0.035], [132.2, -0.015], [132.8, -0.04], [133.4, -0.02], [134.0, -0.04], [134.6, -0.025], [135.4, -0.045], [136.2, -0.025], [137.0, -0.05], [137.8, -0.03], [138.6, -0.05], [139.4, -0.03], [140.2, -0.05], [141.0, -0.025], [141.8, -0.05], [142.6, -0.025], [143.4, -0.05]];

// ---------------- helpers ----------------
type Seg = { k: number; v: number[]; shift?: number };
type Pt = { x: number; y: number };
function series(t0: number, dt: number, segs: Seg[], extra: number[][]): Pt[] {
  const pts: Pt[] = [];
  segs.forEach((s) => s.v.forEach((y, i) => pts.push({ x: t0 + (s.k + i) * dt + (s.shift || 0), y })));
  extra.forEach(([x, y]) => pts.push({ x, y }));
  return pts.sort((a, b) => a.x - b.x);
}

type PanelDef = { title: string[]; top: number; bottom: number; min: number; max: number; ticks: number[]; data: Pt[][] };

const PANELS: PanelDef[] = [
  {
    title: ["Blade Mxy", "[MNm]"], top: 50, bottom: 169, min: -0.5, max: 14, ticks: [0, 5, 10],
    data: [
      series(MXY_T0, MXY_DT, [{ k: 0, v: MXY_PRE }, { k: 17, v: MXY_BLACK_MID, shift: 1.3 }, { k: 58, v: MXY_COMMON_POST }], MXY_BLACK_X),
      series(MXY_T0, MXY_DT, [{ k: 0, v: MXY_PRE }, { k: 17, v: MXY_RED_MID }, { k: 58, v: MXY_COMMON_POST }], MXY_RED_X),
      series(MXY_T0, MXY_DT, [{ k: 0, v: MXY_PRE }, { k: 17, v: MXY_GREEN_MID }, { k: 58, v: [...MXY_GREEN_POST_HEAD, ...MXY_COMMON_POST.slice(7)] }], MXY_GREEN_X),
      series(MXY_T0, MXY_DT, [{ k: 0, v: MXY_PRE }, { k: 17, v: MXY_BLUE_MID, shift: 0.4 }, { k: 58, v: MXY_BLUE_POST, shift: 0.4 }], MXY_BLUE_X),
    ],
  },
  {
    title: ["Blade Mz", "[MNm]"], top: 234, bottom: 353, min: -0.146, max: 0.129, ticks: [-0.1, 0, 0.1],
    data: [
      series(BMZ_T0, BMZ_DT, [{ k: 0, v: BMZ_PRE }, { k: 17, v: BMZ_BLACK_MID }, { k: 57, v: BMZ_COMMON_POST }], BMZ_BLACK_X),
      series(BMZ_T0, BMZ_DT, [{ k: 0, v: BMZ_PRE }, { k: 17, v: BMZ_RED_MID, shift: 0.8 }, { k: 57, v: BMZ_COMMON_POST }], BMZ_RED_X),
      series(BMZ_T0, BMZ_DT, [{ k: 0, v: BMZ_PRE }, { k: 17, v: BMZ_GREEN_MID, shift: 0.8 }, { k: 57, v: BMZ_COMMON_POST }], BMZ_GREEN_X),
      series(BMZ_T0, BMZ_DT, [{ k: 0, v: BMZ_PRE }, { k: 17, v: BMZ_BLUE_MID }, { k: 57, v: BMZ_BLUE_POST, shift: 0.7 }], BMZ_BLUE_X),
    ],
  },
  {
    title: ["Tower Mxy", "[MNm]"], top: 417, bottom: 537, min: 2, max: 9, ticks: [2, 4, 6, 8],
    data: [
      series(TMXY_T0, TMXY_DT, [{ k: 0, v: TMXY_PRE }, { k: 17, v: TMXY_BLACK_MID }, { k: 57, v: TMXY_COMMON_POST }], TMXY_BLACK_X),
      series(TMXY_T0, TMXY_DT, [{ k: 0, v: TMXY_PRE }, { k: 17, v: TMXY_RED_MID }, { k: 57, v: TMXY_COMMON_POST }], TMXY_RED_X),
      series(TMXY_T0, TMXY_DT, [{ k: 0, v: TMXY_PRE }, { k: 17, v: TMXY_GREEN_MID }, { k: 57, v: [...TMXY_GREEN_POST_HEAD, ...TMXY_COMMON_POST.slice(10)] }], TMXY_GREEN_X),
      series(TMXY_T0, TMXY_DT, [{ k: 0, v: TMXY_PRE }, { k: 17, v: TMXY_BLUE_MID }, { k: 57, v: TMXY_BLUE_POST }], TMXY_BLUE_X),
    ],
  },
  {
    title: ["Tower Mz", "[MNm]"], top: 601, bottom: 720, min: -10.3, max: 10.3, ticks: [-10, 0, 10],
    data: [
      series(TMZ_T0, TMZ_DT, [{ k: 0, v: TMZ_PRE }, { k: 18, v: TMZ_BLACK_MID }, { k: 58, v: TMZ_COMMON_POST }], TMZ_BLACK_X),
      series(TMZ_T0, TMZ_DT, [{ k: 0, v: TMZ_PRE }, { k: 18, v: TMZ_RED_MID }, { k: 58, v: TMZ_COMMON_POST }], TMZ_RED_X),
      series(TMZ_T0, TMZ_DT, [{ k: 0, v: TMZ_PRE }, { k: 18, v: TMZ_GREEN_MID }, { k: 58, v: [...TMZ_GREEN_POST_HEAD, ...TMZ_COMMON_POST.slice(18)] }], TMZ_GREEN_X),
      series(TMZ_T0, TMZ_DT, [{ k: 0, v: TMZ_PRE }, { k: 18, v: TMZ_BLUE_MID }, { k: 58, v: TMZ_BLUE_POST }], TMZ_BLUE_X),
    ],
  },
  {
    title: ["Hub My", "[MNm]"], top: 786, bottom: 905, min: -0.1, max: 0.148, ticks: [-0.1, 0, 0.1],
    data: [
      series(HUB_T0, HUB_DT, [{ k: 0, v: HMY_PRE }, { k: 33, v: HMY_BLACK_MID }, { k: 117, v: HMY_COMMON_POST }], HMY_BLACK_X),
      series(HUB_T0, HUB_DT, [{ k: 0, v: HMY_PRE }, { k: 33, v: HMY_RED_MID }, { k: 117, v: HMY_COMMON_POST }], HMY_RED_X),
      series(HUB_T0, HUB_DT, [{ k: 0, v: HMY_PRE }, { k: 33, v: HMY_GREEN_MID }, { k: 117, v: [...HMY_GREEN_POST_HEAD, ...HMY_COMMON_POST.slice(20)] }], HMY_GREEN_X),
      series(HUB_T0, HUB_DT, [{ k: 0, v: HMY_PRE }, { k: 33, v: HMY_BLUE_MID }, { k: 117, v: HMY_BLUE_POST }], HMY_BLUE_X),
    ],
  },
  {
    title: ["Hub Mz", "[MNm]"], top: 969, bottom: 1088, min: -0.148, max: 0.076, ticks: [-0.1, 0],
    data: [
      series(HUB_T0, HUB_DT, [{ k: 0, v: HMZ_PRE }, { k: 34, v: HMZ_BLACK_MID }, { k: 117, v: HMZ_COMMON_POST }], HMZ_BLACK_X),
      series(HUB_T0, HUB_DT, [{ k: 0, v: HMZ_PRE }, { k: 34, v: HMZ_RED_MID }, { k: 117, v: HMZ_COMMON_POST }], HMZ_RED_X),
      series(HUB_T0, HUB_DT, [{ k: 0, v: HMZ_PRE }, { k: 34, v: HMZ_GREEN_MID }, { k: 117, v: [...HMZ_GREEN_POST_HEAD, ...HMZ_COMMON_POST.slice(20)] }], HMZ_GREEN_X),
      series(HUB_T0, HUB_DT, [{ k: 0, v: HMZ_PRE }, { k: 34, v: HMZ_BLUE_MID }, { k: 117, v: HMZ_BLUE_POST }], HMZ_BLUE_X),
    ],
  },
];

const STYLES = [
  { color: "#000000", dash: [] as number[], order: 4 },
  { color: "#ff0000", dash: [9, 3, 2, 3], order: 3 },
  { color: "#00ff00", dash: [2, 3], order: 2 },
  { color: "#0000ff", dash: [9, 6], order: 1 },
];

const PAD_TOP = 20;
const W = 1212;

const boxPlugin = {
  id: "matlabBox",
  afterDatasetsDraw(chart: any) {
    const { ctx, chartArea: a, scales } = chart;
    ctx.save();
    ctx.strokeStyle = INK;
    ctx.lineWidth = 1.5;
    ctx.setLineDash([]);
    ctx.strokeRect(a.left, a.top, a.right - a.left, a.bottom - a.top);
    const L = 7;
    ctx.beginPath();
    X_TICKS.forEach((v) => {
      const px = scales.x.getPixelForValue(v);
      ctx.moveTo(px, a.bottom); ctx.lineTo(px, a.bottom - L);
      ctx.moveTo(px, a.top); ctx.lineTo(px, a.top + L);
    });
    scales.y.ticks.forEach((t: any) => {
      const py = scales.y.getPixelForValue(t.value);
      ctx.moveTo(a.left, py); ctx.lineTo(a.left + L, py);
      ctx.moveTo(a.right, py); ctx.lineTo(a.right - L, py);
    });
    ctx.lineWidth = 1.2;
    ctx.stroke();
    ctx.restore();
  },
};

function PanelChart({ p, last }: { p: PanelDef; last: boolean }) {
  const ref = useRef<HTMLCanvasElement | null>(null);
  const xh = last ? 86 : 50;
  const height = PAD_TOP + (p.bottom - p.top) + xh;
  useEffect(() => {
    const canvas = ref.current;
    if (!canvas) return;
    const chart = new Chart(canvas, {
      type: "line",
      data: {
        datasets: p.data.map((d, i) => ({
          label: LABELS[i],
          data: d,
          borderColor: STYLES[i].color,
          borderDash: STYLES[i].dash,
          borderWidth: 2.5,
          pointRadius: 0,
          fill: false,
          order: STYLES[i].order,
          cubicInterpolationMode: "monotone",
        })),
      },
      options: {
        responsive: false,
        animation: false,
        events: [],
        layout: { padding: { top: PAD_TOP, right: 15, left: 0, bottom: 0 } },
        plugins: { legend: { display: false }, tooltip: { enabled: false } },
        scales: {
          x: {
            type: "linear",
            min: 0,
            max: 230,
            afterBuildTicks: (s: any) => { s.ticks = X_TICKS.map((v) => ({ value: v })); },
            afterFit: (s: any) => { s.height = xh; s.paddingLeft = 0; s.paddingRight = 0; },
            ticks: { font: { size: 24, weight: "bold", family: FONT }, color: INK, padding: 17, maxRotation: 0, autoSkip: false, callback: (v: any) => String(v) },
            grid: { color: "#dedede", lineWidth: 1, drawTicks: false },
            border: { display: false },
            title: { display: last, text: "Time [s]", color: INK, font: { size: 29, weight: "bold", family: FONT }, padding: { top: 0, bottom: 0 } },
          },
          y: {
            type: "linear",
            min: p.min,
            max: p.max,
            afterBuildTicks: (s: any) => { s.ticks = p.ticks.map((v) => ({ value: v })); },
            afterFit: (s: any) => { s.width = 146; s.paddingTop = 0; s.paddingBottom = 0; },
            ticks: { font: { size: 24, weight: "bold", family: FONT }, color: INK, padding: 12, autoSkip: false, callback: (v: any) => String(v) },
            grid: { color: "#dedede", lineWidth: 1, drawTicks: false },
            border: { display: false },
            title: { display: true, text: p.title, color: INK, font: { size: 29, weight: "bold", family: FONT, lineHeight: 1.414 }, padding: { top: 6.5, bottom: 0 } },
          },
        },
      },
      plugins: [boxPlugin],
    } as any);
    return () => chart.destroy();
  }, []);
  return (
    <canvas
      ref={ref}
      width={W}
      height={height}
      style={{ position: "absolute", left: 0, top: p.top - PAD_TOP, width: W, height }}
    />
  );
}

function Legend() {
  const ty = 19;
  const textStyle = { fontFamily: FONT, fontWeight: 700, fontSize: 24, fill: "#000" } as const;
  const items = [
    { x1: 9, x2: 62, tx: 66 },
    { x1: 156, x2: 217, tx: 222 },
    { x1: 317, x2: 374, tx: 377 },
    { x1: 464, x2: 529, tx: 532 },
  ];
  return (
    <svg width={644} height={40} style={{ position: "absolute", left: 556, top: 13 }}>
      <rect x={2} y={2} width={639} height={34} fill="#ffffff" stroke={INK} strokeWidth={1.5} />
      {items.map((it, i) => (
        <g key={i}>
          <line x1={it.x1} y1={ty} x2={it.x2} y2={ty} stroke={STYLES[i].color} strokeWidth={2.5} strokeDasharray={STYLES[i].dash.length ? STYLES[i].dash.join(" ") : undefined} />
          <text x={it.tx} y={ty} dominantBaseline="central" style={textStyle}>{LABELS[i]}</text>
        </g>
      ))}
    </svg>
  );
}

export default function App() {
  return (
    <div style={{ position: "absolute", left: 0, top: 0, width: W, height: 1182, background: "#ffffff", overflow: "hidden" }}>
      {PANELS.map((p, i) => (
        <PanelChart key={i} p={p} last={i === PANELS.length - 1} />
      ))}
      <Legend />
    </div>
  );
}
